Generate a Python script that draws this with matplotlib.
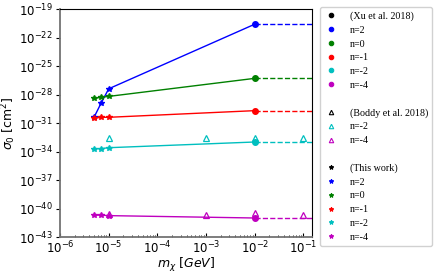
import numpy as np
import matplotlib
matplotlib.use("Agg")
import matplotlib.pyplot as plt
from matplotlib.ticker import FixedLocator, LogLocator, NullLocator, NullFormatter

# ---- data (log10 of sigma_0 in cm^2) ----
labels = ["n=2", "n=0", "n=-1", "n=-2", "n=-4"]
colors = ["b", "g", "r", "c", "m"]

# This work (stars)
this_mass = [5e-6, 7e-6, 1e-5]
this_logsig = {
    "n=2": [-30.4, -28.9, -27.4],
    "n=0": [-28.4, -28.3, -28.2],
    "n=-1": [-30.5, -30.4, -30.4],
    "n=-2": [-33.7, -33.7, -33.6],
    "n=-4": [-40.7, -40.7, -40.75],
}

# Xu et al. 2018 (circles)
xu_mass = 1e-2
xu_logsig = {"n=2": -20.6, "n=0": -26.3, "n=-1": -29.7, "n=-2": -33.0, "n=-4": -41.0}
xu_extend_to = 0.15

# Boddy et al. 2018 (open triangles)
boddy_labels = ["n=-2", "n=-4"]
boddy_colors = ["c", "m"]
boddy_mass = [1e-5, 1e-3, 1e-2, 1e-1]
boddy_logsig = {"n=-2": [-32.6, -32.6, -32.6, -32.6],
                "n=-4": [-40.6, -40.7, -40.5, -40.7]}

fig = plt.figure(figsize=(4.36, 2.74), dpi=100)
ax = fig.add_axes([60/436, 1-237/274, (312-60)/436, (237-9)/274])

for lab, col in zip(labels, colors):
    xs = this_mass + [xu_mass]
    ys = [10**v for v in this_logsig[lab]] + [10**xu_logsig[lab]]
    ax.plot(xs, ys, '-', color=col, lw=1.0, zorder=2)
    ax.plot(this_mass, [10**v for v in this_logsig[lab]], '*', color=col, ms=4, lw=0, zorder=3)
    ax.plot([xu_mass], [10**xu_logsig[lab]], 'o', color=col, ms=4, zorder=3)
    ax.plot([xu_mass, xu_extend_to], [10**xu_logsig[lab]]*2, '--', color=col, lw=1.0, zorder=2)

for lab, col in zip(boddy_labels, boddy_colors):
    ax.plot(boddy_mass, [10**v for v in boddy_logsig[lab]], '^', mfc='none', mec=col,
            ms=4, mew=0.9, lw=0, zorder=3)

ax.set_xscale('log')
ax.set_yscale('log')
ax.set_xlim(1e-6, 0.15)
ax.set_ylim(1e-43, 1e-19)
ax.yaxis.set_major_locator(FixedLocator([10.0**e for e in range(-43, -18, 3)]))
ax.yaxis.set_minor_locator(NullLocator())
ax.yaxis.set_minor_formatter(NullFormatter())
ax.xaxis.set_major_locator(FixedLocator([10.0**e for e in range(-6, 0)]))
ax.xaxis.set_minor_locator(LogLocator(base=10, subs=np.arange(2, 10), numticks=20))
ax.xaxis.set_minor_formatter(NullFormatter())
ax.tick_params(axis='x', which='both', direction='in', labelsize=8.5, pad=2)
ax.tick_params(axis='y', which='both', direction='out', labelsize=8.5, pad=2)
ax.tick_params(axis='both', which='major', length=3)
ax.tick_params(axis='x', which='minor', length=1.8)
for s in ['left', 'bottom']:
    ax.spines[s].set_color('0.45')
    ax.spines[s].set_linewidth(1.3)
ax.set_xlabel(r'$m_{\chi}$ [$GeV$]', fontsize=9, labelpad=0)
ax.set_ylabel(r'$\sigma_0$ [cm$^2$]', fontsize=9, labelpad=1)

# legend
handles = []
lbls = []
def add(marker, color, label, hollow=False):
    h, = ax.plot([], [], marker, color=color, ms=3.2,
                 mfc='none' if hollow else color, mec=color, mew=0.8, lw=0)
    handles.append(h); lbls.append(label)
def blank():
    h, = ax.plot([], [], ' ')
    handles.append(h); lbls.append(' ')

add('o', 'k', '(Xu et al. 2018)')
for lab, col in zip(labels, colors):
    add('o', col, lab)
blank()
add('^', 'k', '(Boddy et al. 2018)', hollow=True)
for lab, col in zip(boddy_labels, boddy_colors):
    add('^', col, lab, hollow=True)
blank()
add('*', 'k', '(This work)')
for lab, col in zip(labels, colors):
    add('*', col, lab)

leg = fig.legend(handles, lbls, loc='upper left', bbox_to_anchor=(320/436, 1-7/274),
                 prop={'family': 'Liberation Serif', 'size': 7.2},
                 labelspacing=0.47, handlelength=1.2, handletextpad=1.3,
                 borderpad=0.45, frameon=True, fancybox=True, framealpha=0.9,
                 edgecolor='0.8', borderaxespad=0)

fig.savefig('out.png', dpi=100)
